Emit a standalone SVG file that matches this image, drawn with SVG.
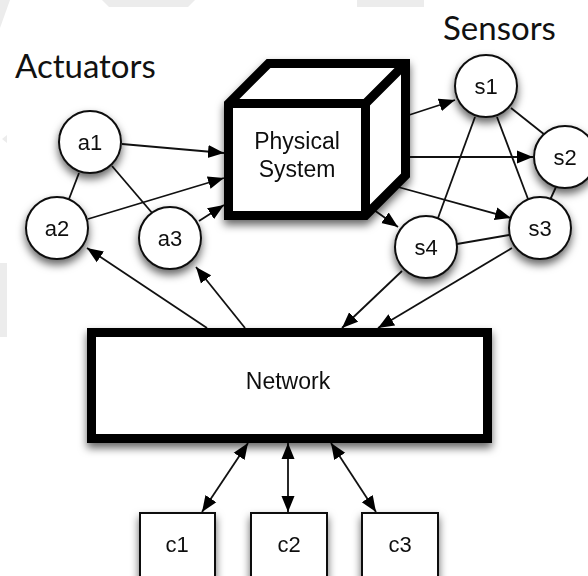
<svg xmlns="http://www.w3.org/2000/svg" width="588" height="576" viewBox="0 0 588 576">
<defs>
<style>
.bg{fill:#ececec}
.title{font-family:Lato,"Open Sans","Liberation Sans",sans-serif;font-size:33px;fill:#111}
.lbl{font-family:"Liberation Sans",Arial,sans-serif;font-size:22px;fill:#111;text-anchor:middle}
.big{font-family:"Liberation Sans",Arial,sans-serif;font-size:23px;fill:#111;text-anchor:middle}
.node{fill:#fff;stroke:#111;stroke-width:2}
.thick{fill:#fff;stroke:#000;stroke-width:9;stroke-linejoin:miter}
.inner{fill:none;stroke:#000;stroke-width:9;stroke-linejoin:miter}
.edge{fill:none;stroke:#111;stroke-width:1.8}
.arr{marker-end:url(#ah)}
.bi{marker-end:url(#ah);marker-start:url(#ahs)}
</style>
<filter id="sh" x="-30%" y="-30%" width="160%" height="170%">
<feDropShadow dx="0" dy="5" stdDeviation="4.5" flood-color="#000" flood-opacity="0.6"/>
</filter>
<marker id="ah" markerUnits="userSpaceOnUse" markerWidth="16" markerHeight="14" refX="16" refY="7" orient="auto">
<path d="M0,0.5 L16,7 L0,13.5 z" fill="#000"/>
</marker>
<marker id="ahs" markerUnits="userSpaceOnUse" markerWidth="16" markerHeight="14" refX="16" refY="7" orient="auto-start-reverse">
<path d="M0,0.5 L16,7 L0,13.5 z" fill="#000"/>
</marker>
</defs>
<rect width="588" height="576" fill="#fff"/>
<g id="background">
<polygon class="bg" points="0,0 10,0 0,28"/>
<polygon class="bg" points="102,0 195,0 188,7 109,7"/>
<rect class="bg" x="357" y="0" width="67" height="7"/>
<polygon class="bg" points="2,139 7,135 7,143"/>
<rect class="bg" x="0" y="263" width="7" height="74"/>
</g>
<text class="title" x="15" y="78">Actuators</text>
<text class="title" x="443" y="40">Sensors</text>
<g id="connectors">
<line class="edge" x1="79" y1="173" x2="69" y2="199"/>
<line class="edge" x1="112" y1="166" x2="153" y2="214"/>
<line class="edge arr" x1="122" y1="144" x2="224" y2="153"/>
<line class="edge arr" x1="88" y1="219" x2="224" y2="178"/>
<line class="edge arr" x1="199" y1="221" x2="224" y2="205"/>
<line class="edge arr" x1="207" y1="328" x2="87" y2="248"/>
<line class="edge arr" x1="245" y1="328" x2="196" y2="267"/>
<line class="edge arr" x1="406" y1="116" x2="455" y2="100"/>
<line class="edge arr" x1="406" y1="157" x2="533" y2="157"/>
<line class="edge arr" x1="398" y1="187" x2="511" y2="218"/>
<line class="edge arr" x1="374" y1="210" x2="398" y2="227"/>
<line class="edge" x1="511" y1="108" x2="545" y2="135"/>
<line class="edge" x1="497" y1="117" x2="528" y2="199"/>
<line class="edge" x1="475" y1="117" x2="438" y2="218"/>
<line class="edge" x1="556" y1="187" x2="550" y2="200"/>
<line class="edge" x1="457" y1="244" x2="509" y2="235"/>
<line class="edge arr" x1="402" y1="271" x2="342" y2="328"/>
<line class="edge arr" x1="512" y1="248" x2="378" y2="328"/>
<line class="edge bi" x1="248" y1="443" x2="202" y2="512"/>
<line class="edge bi" x1="288" y1="443" x2="288" y2="512"/>
<line class="edge bi" x1="331" y1="443" x2="376" y2="512"/>
</g>
<g id="a1" filter="url(#sh)"><circle class="node" cx="90" cy="142" r="31"/><text class="lbl" x="90" y="150">a1</text></g>
<g id="a2" filter="url(#sh)"><circle class="node" cx="57" cy="228" r="31"/><text class="lbl" x="57" y="236">a2</text></g>
<g id="a3" filter="url(#sh)"><circle class="node" cx="170" cy="238" r="31"/><text class="lbl" x="170" y="246">a3</text></g>
<g id="physical-system" filter="url(#sh)">
<path class="thick" d="M228.5,215.5 V103.5 L268.5,63.5 H405.5 V175.5 L365.5,215.5 Z"/>
<path class="inner" d="M228.5,103.5 H365.5 V215.5 M365.5,103.5 L405.5,63.5"/>
<text class="big" x="297" y="149">Physical</text>
<text class="big" x="297" y="177">System</text>
</g>
<g id="s1" filter="url(#sh)"><circle class="node" cx="486" cy="86" r="31"/><text class="lbl" x="486" y="94">s1</text></g>
<g id="s2" filter="url(#sh)"><circle class="node" cx="565" cy="157" r="31"/><text class="lbl" x="565" y="165">s2</text></g>
<g id="s3" filter="url(#sh)"><circle class="node" cx="540" cy="228" r="31"/><text class="lbl" x="540" y="236">s3</text></g>
<g id="s4" filter="url(#sh)"><circle class="node" cx="426" cy="247" r="31"/><text class="lbl" x="426" y="255">s4</text></g>
<g id="network" filter="url(#sh)">
<rect class="thick" x="91.5" y="332.5" width="396" height="106"/>
<text class="big" x="288" y="389">Network</text>
</g>
<g id="c1" filter="url(#sh)"><rect class="node" x="140" y="513" width="75" height="75" stroke-width="1.5"/><text class="lbl" x="177" y="552">c1</text></g>
<g id="c2" filter="url(#sh)"><rect class="node" x="251" y="513" width="76" height="75" stroke-width="1.5"/><text class="lbl" x="289" y="552">c2</text></g>
<g id="c3" filter="url(#sh)"><rect class="node" x="362" y="513" width="76" height="75" stroke-width="1.5"/><text class="lbl" x="400" y="552">c3</text></g>
</svg>
